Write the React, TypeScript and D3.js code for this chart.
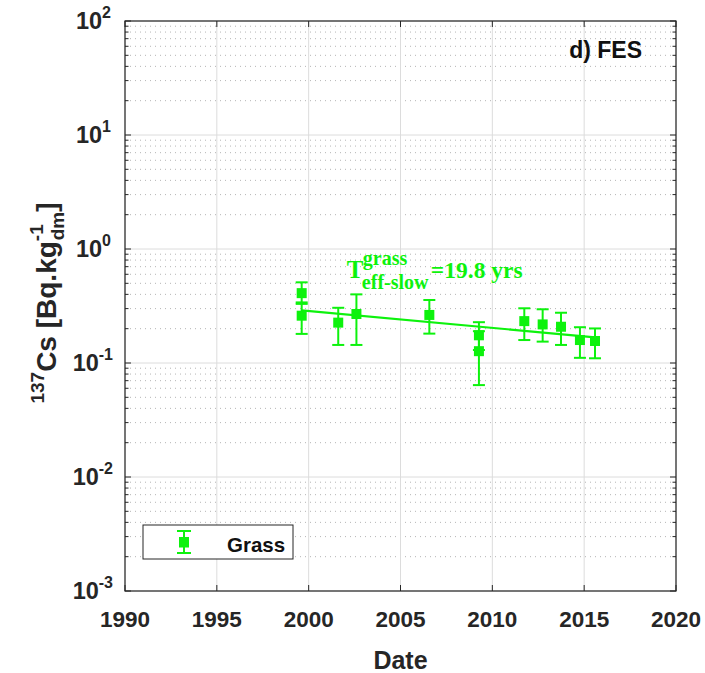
import React from "react";
import * as d3 from "d3";

// ---- data ----
const dates = [1999.62, 1999.62, 2001.61, 2002.6, 2006.57, 2009.27, 2009.27, 2011.74, 2012.74, 2013.74, 2014.77, 2015.59];
const values = [0.41, 0.26, 0.226, 0.269, 0.264, 0.175, 0.127, 0.233, 0.218, 0.208, 0.159, 0.156];
const lowerErr = [0.33, 0.18, 0.144, 0.144, 0.181, 0.13, 0.064, 0.159, 0.154, 0.144, 0.111, 0.11];
const upperErr = [0.51, 0.34, 0.305, 0.40, 0.357, 0.228, 0.19, 0.302, 0.296, 0.276, 0.206, 0.201];
const fitDates = [1999.62, 2015.59];
const fitValues = [0.29, 0.168];
const xTicks = [1990, 1995, 2000, 2005, 2010, 2015, 2020];
const yExponents = [-3, -2, -1, 0, 1, 2];
const seriesName = "Grass";
const panelTitle = "d) FES";
const halfLife = "=19.8 yrs";

const W = 705, H = 673;
const L = 125, R = 676, T = 21, B = 591;
const GREEN = "#0df20d";
const SANS = "Arial, 'Liberation Sans', sans-serif";
const SERIF = "'Times New Roman', 'Liberation Serif', serif";

export default function App() {
  const x = d3.scaleLinear().domain([1990, 2020]).range([L, R]);
  const y = d3.scaleLog().domain([1e-3, 1e2]).range([B, T]);

  const minors: number[] = [];
  for (let e = -3; e < 2; e++) for (let k = 2; k <= 9; k++) minors.push(k * Math.pow(10, e));

  const line = d3.line<number>().x((d, i) => x(fitDates[i])).y((d) => y(d));

  const annX = x(2002.08), annY = y(0.557);

  return (
    <svg width={W} height={H} style={{ position: "absolute", left: 0, top: 0, background: "#fff" }}>
      <rect x={0} y={0} width={W} height={H} fill="#fff" />
      {/* minor grid */}
      {minors.map((v, i) => (
        <line key={"mg" + i} x1={L} x2={R} y1={y(v)} y2={y(v)} stroke="#b5b5b5" strokeWidth={1} strokeDasharray="1,4" />
      ))}
      {/* major grid */}
      {yExponents.map((e) => (
        <line key={"yg" + e} x1={L} x2={R} y1={y(Math.pow(10, e))} y2={y(Math.pow(10, e))} stroke="#dcdcdc" strokeWidth={1} />
      ))}
      {xTicks.map((t) => (
        <line key={"xg" + t} x1={x(t)} x2={x(t)} y1={T} y2={B} stroke="#dcdcdc" strokeWidth={1} />
      ))}
      {/* ticks */}
      {xTicks.map((t) => (
        <g key={"xt" + t}>
          <line x1={x(t)} x2={x(t)} y1={B} y2={B - 6} stroke="#262626" />
          <line x1={x(t)} x2={x(t)} y1={T} y2={T + 6} stroke="#262626" />
        </g>
      ))}
      {yExponents.map((e) => (
        <g key={"yt" + e}>
          <line x1={L} x2={L + 6} y1={y(Math.pow(10, e))} y2={y(Math.pow(10, e))} stroke="#262626" />
          <line x1={R} x2={R - 6} y1={y(Math.pow(10, e))} y2={y(Math.pow(10, e))} stroke="#262626" />
        </g>
      ))}
      {minors.map((v, i) => (
        <g key={"mt" + i}>
          <line x1={L} x2={L + 3.5} y1={y(v)} y2={y(v)} stroke="#262626" />
          <line x1={R} x2={R - 3.5} y1={y(v)} y2={y(v)} stroke="#262626" />
        </g>
      ))}
      {/* box */}
      <rect x={L} y={T} width={R - L} height={B - T} fill="none" stroke="#262626" strokeWidth={1.2} />

      {/* fit line */}
      <path d={line(fitValues) || ""} fill="none" stroke={GREEN} strokeWidth={2.2} />
      {/* error bars */}
      {dates.map((d, i) => {
        const cx = x(d);
        return (
          <g key={"eb" + i} stroke={GREEN} strokeWidth={2}>
            <line x1={cx} x2={cx} y1={y(lowerErr[i])} y2={y(upperErr[i])} />
            <line x1={cx - 6} x2={cx + 6} y1={y(lowerErr[i])} y2={y(lowerErr[i])} />
            <line x1={cx - 6} x2={cx + 6} y1={y(upperErr[i])} y2={y(upperErr[i])} />
          </g>
        );
      })}
      {dates.map((d, i) => (
        <rect key={"pt" + i} x={x(d) - 5} y={y(values[i]) - 5} width={10} height={10} fill={GREEN} />
      ))}

      {/* annotation */}
      <g fill={GREEN} fontFamily={SERIF} fontWeight="bold">
        <text x={annX} y={annY} fontSize={25}>T</text>
        <text x={annX + 16} y={annY - 13} fontSize={20}>grass</text>
        <text x={annX + 15} y={annY + 11} fontSize={20}>eff-slow</text>
        <text x={annX + 84} y={annY} fontSize={23.5}>{halfLife}</text>
      </g>

      {/* panel title */}
      <text x={R - 34} y={58} textAnchor="end" fontFamily={SANS} fontWeight="bold" fontSize={23} fill="#111">{panelTitle}</text>

      {/* x tick labels */}
      {xTicks.map((t) => (
        <text key={"xl" + t} x={x(t)} y={627} textAnchor="middle" fontFamily={SANS} fontWeight="bold" fontSize={22.5} fill="#262626">{t}</text>
      ))}
      <text x={(L + R) / 2} y={669} textAnchor="middle" fontFamily={SANS} fontWeight="bold" fontSize={25} fill="#262626">Date</text>

      {/* y tick labels */}
      {yExponents.map((e) => (
        <text key={"yl" + e} x={e < 0 ? 113 : 111} y={y(Math.pow(10, e)) + 8} textAnchor="end" fontFamily={SANS} fontWeight="bold" fontSize={23.5} fill="#262626">
          10<tspan fontSize={16} dy={-11}>{e}</tspan>
        </text>
      ))}

      {/* y axis label */}
      <g transform={`translate(56, ${(T + B) / 2 - 3}) rotate(-90)`}>
        <text x={0} y={0} textAnchor="middle" fontFamily={SANS} fontWeight="bold" fontSize={28} fill="#262626">
          <tspan fontSize={19} dy={-12}>137</tspan>
          <tspan dy={12}>Cs [Bq.kg</tspan>
          <tspan fontSize={19} dy={-13}>-1</tspan>
          <tspan fontSize={19} dx={-16} dy={21}>dm</tspan>
          <tspan dy={-8}>]</tspan>
        </text>
      </g>

      {/* legend */}
      <rect x={143} y={525} width={150} height={34} fill="#fff" stroke="#262626" strokeWidth={1} />
      <g stroke={GREEN} strokeWidth={2}>
        <line x1={184} x2={184} y1={531} y2={553} />
        <line x1={177} x2={191} y1={531} y2={531} />
        <line x1={177} x2={191} y1={553} y2={553} />
      </g>
      <rect x={179} y={537} width={10} height={10.5} fill={GREEN} />
      <text x={227} y={552} fontFamily={SANS} fontWeight="bold" fontSize={20.5} fill="#111">{seriesName}</text>
    </svg>
  );
}
